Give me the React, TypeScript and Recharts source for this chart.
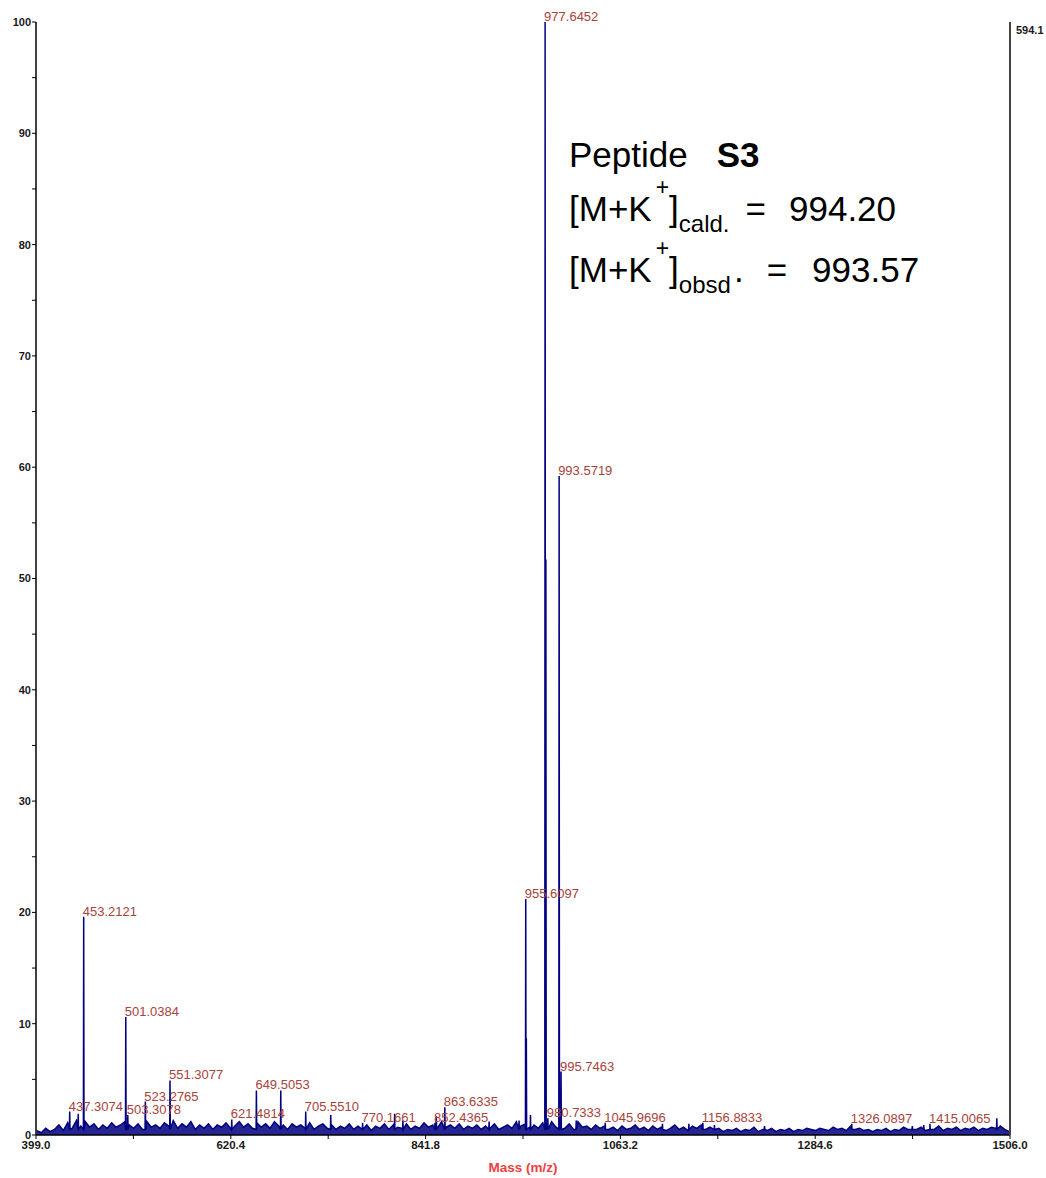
// MALDI spectrum of peptide S3 (stick lines + labelled peaks)
import React from 'react'
import { ComposedChart, Area, XAxis, YAxis, ReferenceDot, Label } from 'recharts'

// labelled peaks: m/z and relative intensity (%)
const labelledMasses = [
  437.3074, 453.2121, 501.0384, 503.3078, 523.2765, 551.3077, 621.4814, 649.5053,
  705.551, 770.1661, 852.4365, 863.6335, 955.6097, 977.6452, 980.7333, 993.5719,
  995.7463, 1045.9696, 1156.8833, 1326.0897, 1415.0065
]
const labelledIntensities = [
  2.1, 19.6, 10.6, 1.8, 3.0, 4.9, 1.4, 4.0,
  2.1, 1.1, 1.1, 2.5, 21.2, 100, 1.5, 59.2,
  5.7, 1.1, 1.1, 1.0, 1.0
]

// peaks without a label
const otherMasses = [
  447.0, 677.2, 734.0, 806.6, 816.0, 854.0, 914.0, 948.0, 956.3, 961.0, 978.5,
  1013.0, 1111.0, 1141.0, 1170.0, 1227.0, 1395.0, 1408.0, 1491.0
]
const otherIntensities = [
  1.9, 4.0, 1.8, 1.9, 1.3, 1.7, 1.2, 1.3, 8.7, 1.8, 51.7,
  1.3, 1.0, 1.0, 0.9, 0.8, 0.8, 0.9, 1.5
]

// baseline noise, one reading every 5 m/z from 400
const NOISE_START = 400
const NOISE_STEP = 5
const baselineNoise = [
  0.4, 0.2, 0.6, 0.3, 0.5, 0.9, 0.4, 1.1, 0.6, 1.3,
  0.8, 1.2, 0.7, 1.0, 0.5, 0.9, 0.6, 1.1, 0.7, 0.9,
  1.2, 0.9, 0.6, 1.0, 0.5, 1.2, 0.7, 0.9, 0.6, 1.1,
  0.8, 1.3, 0.6, 1.0, 0.7, 1.2, 0.5, 0.9, 0.6, 1.0,
  0.5, 0.9, 0.7, 1.1, 0.6, 0.8, 1.2, 0.7, 1.0, 0.6,
  1.1, 0.7, 1.0, 0.6, 1.2, 0.8, 0.9, 0.5, 1.0, 0.7,
  0.9, 0.6, 1.1, 0.5, 0.8, 1.0, 0.6, 0.9, 0.5, 0.8,
  0.6, 1.0, 0.5, 0.8, 0.6, 0.9, 0.4, 0.8, 0.6, 1.0,
  0.5, 0.9, 0.7, 0.6, 1.0, 0.5, 0.8, 0.6, 1.1, 0.7,
  0.9, 0.6, 1.2, 0.7, 0.9, 0.6, 1.0, 0.5, 0.8, 0.6,
  0.9, 0.5, 0.8, 0.6, 1.0, 0.5, 0.7, 0.9, 0.6, 1.2,
  0.8, 1.0, 0.7, 0.9, 0.6, 1.1, 0.8, 1.2, 0.7, 0.9,
  0.6, 1.0, 0.5, 1.2, 0.7, 0.8, 0.5, 0.9, 0.6, 0.8,
  0.5, 0.7, 0.4, 0.8, 0.5, 0.6, 0.9, 0.5, 0.7, 0.4,
  0.8, 0.5, 0.7, 0.4, 0.6, 0.9, 0.5, 0.7, 0.4, 0.8,
  0.6, 0.9, 0.5, 0.7, 0.4, 0.6, 0.3, 0.5, 0.4, 0.6,
  0.3, 0.5, 0.4, 0.7, 0.3, 0.5, 0.4, 0.6, 0.3, 0.5,
  0.4, 0.6, 0.3, 0.5, 0.4, 0.6, 0.5, 0.4, 0.6, 0.5,
  0.4, 0.7, 0.5, 0.6, 0.4, 0.8, 0.5, 0.6, 0.4, 0.5,
  0.3, 0.5, 0.4, 0.6, 0.3, 0.5, 0.4, 0.7, 0.5, 0.8,
  0.5, 0.7, 0.4, 0.6, 0.5, 0.8, 0.4, 0.6, 0.5, 0.7,
  0.4, 0.6, 0.5, 0.7, 0.4, 0.6, 0.5, 0.7, 0.6, 0.8,
  0.5, 0.3
]
const PEAK_FOOT = 0.5

const majorTicks = [399.0, 620.4, 841.8, 1063.2, 1284.6, 1506.0]
const minorTicks = [509.7, 731.1, 952.5, 1173.9, 1395.3]
const yTicks = [0, 5, 10, 15, 20, 25, 30, 35, 40, 45, 50, 55, 60, 65, 70, 75, 80, 85, 90, 95, 100]
const rightAxisLabel = '594.1'

const peak = (m: number, h: number) => [
  { mass: m - 0.35, intensity: PEAK_FOOT },
  { mass: m, intensity: h },
  { mass: m + 0.35, intensity: PEAK_FOOT }
]

const spectrum = [
  ...baselineNoise.map((v, i) => ({ mass: NOISE_START + i * NOISE_STEP, intensity: v })),
  ...labelledMasses.flatMap((m, i) => peak(m, labelledIntensities[i])),
  ...otherMasses.flatMap((m, i) => peak(m, otherIntensities[i]))
].sort((a, b) => a.mass - b.mass)

const FONT = '"Liberation Sans", Arial, Helvetica, sans-serif'
const NAVY = '#000080'

const peakLabel = (text: string) => (props: any) => {
  const vb = props.viewBox || {}
  return (
    <text x={vb.x - 1} y={vb.y - 1} fill="#a8423a" fontSize={13} fontFamily={FONT}>
      {text}
    </text>
  )
}

// "594.1" sits just right of the top of the right-hand axis
const rightLabel = (props: any) => {
  const vb = props.viewBox || {}
  return (
    <text x={vb.x + 6} y={vb.y + 12} fontSize={11} fontWeight={700} fill="#1a1a1a" fontFamily={FONT}>
      {rightAxisLabel}
    </text>
  )
}

const ann: React.CSSProperties = {
  position: 'absolute',
  left: 569,
  fontFamily: FONT,
  fontSize: 35,
  lineHeight: '35px',
  color: '#000',
  whiteSpace: 'nowrap'
}
const sup: React.CSSProperties = { fontSize: 23, position: 'relative', top: -26, marginLeft: 4 }
const sub: React.CSSProperties = { fontSize: 24, position: 'relative', top: 11 }

export default function App() {
  return (
    <div style={{ position: 'absolute', left: 0, top: 0, width: 1046, height: 1178, background: '#fff' }}>
      <ComposedChart
        width={1046}
        height={1178}
        data={spectrum}
        margin={{ top: 22, right: 0, left: 0, bottom: 0 }}
      >
        <XAxis
          dataKey="mass"
          type="number"
          domain={[399, 1506]}
          allowDataOverflow
          ticks={[...majorTicks, ...minorTicks].sort((a, b) => a - b)}
          interval={0}
          tickFormatter={(v: number) => (majorTicks.includes(v) ? v.toFixed(1) : '')}
          height={43}
          tickSize={4}
          tickMargin={2}
          axisLine={{ stroke: '#000', strokeWidth: 1.5 }}
          tickLine={{ stroke: '#000' }}
          tick={{ fontSize: 11.5, fontWeight: 700, fill: '#1a1a1a', fontFamily: FONT }}
        >
          <Label
            value="Mass (m/z)"
            position="insideBottom"
            offset={6}
            style={{ fontSize: 13.5, fontWeight: 700, fill: '#f04040', fontFamily: FONT }}
          />
        </XAxis>
        <YAxis
          yAxisId="left"
          domain={[0, 100]}
          ticks={yTicks}
          interval={0}
          width={36}
          tickSize={4}
          tickMargin={1}
          tickFormatter={(v: number) => (v % 10 === 0 ? String(v) : '')}
          axisLine={{ stroke: '#000', strokeWidth: 1.5 }}
          tickLine={{ stroke: '#000' }}
          tick={{ fontSize: 11, fontWeight: 700, fill: '#1a1a1a', fontFamily: FONT }}
        />
        <YAxis
          yAxisId="right"
          orientation="right"
          domain={[0, 100]}
          ticks={[]}
          width={36}
          tickLine={false}
          tick={false}
          axisLine={{ stroke: '#444', strokeWidth: 2 }}
        />
        <Area
          yAxisId="left"
          type="linear"
          dataKey="intensity"
          stroke={NAVY}
          strokeWidth={1.5}
          fill={NAVY}
          fillOpacity={0.85}
          dot={false}
          activeDot={false}
          isAnimationActive={false}
        />
        {labelledMasses.map((m, i) => (
          <ReferenceDot
            key={m}
            yAxisId="left"
            x={m}
            y={labelledIntensities[i]}
            r={0}
            fill="none"
            stroke="none"
            label={peakLabel(m.toFixed(4))}
          />
        ))}
        <ReferenceDot
          yAxisId="left"
          x={1506}
          y={100}
          r={0}
          fill="none"
          stroke="none"
          ifOverflow="visible"
          label={rightLabel}
        />
      </ComposedChart>

      <div style={{ ...ann, top: 137 }}>
        Peptide<b style={{ marginLeft: 29 }}>S3</b>
      </div>
      <div style={{ ...ann, top: 191 }}>
        [M+K<span style={sup}>+</span>]<span style={sub}>cald.</span>
        <span style={{ marginLeft: 16 }}>=</span>
        <span style={{ marginLeft: 23 }}>994.20</span>
      </div>
      <div style={{ ...ann, top: 252 }}>
        [M+K<span style={sup}>+</span>]<span style={sub}>obsd</span>
        <span style={{ marginLeft: 3 }}>.</span>
        <span style={{ marginLeft: 23 }}>=</span>
        <span style={{ marginLeft: 25 }}>993.57</span>
      </div>
    </div>
  )
}
